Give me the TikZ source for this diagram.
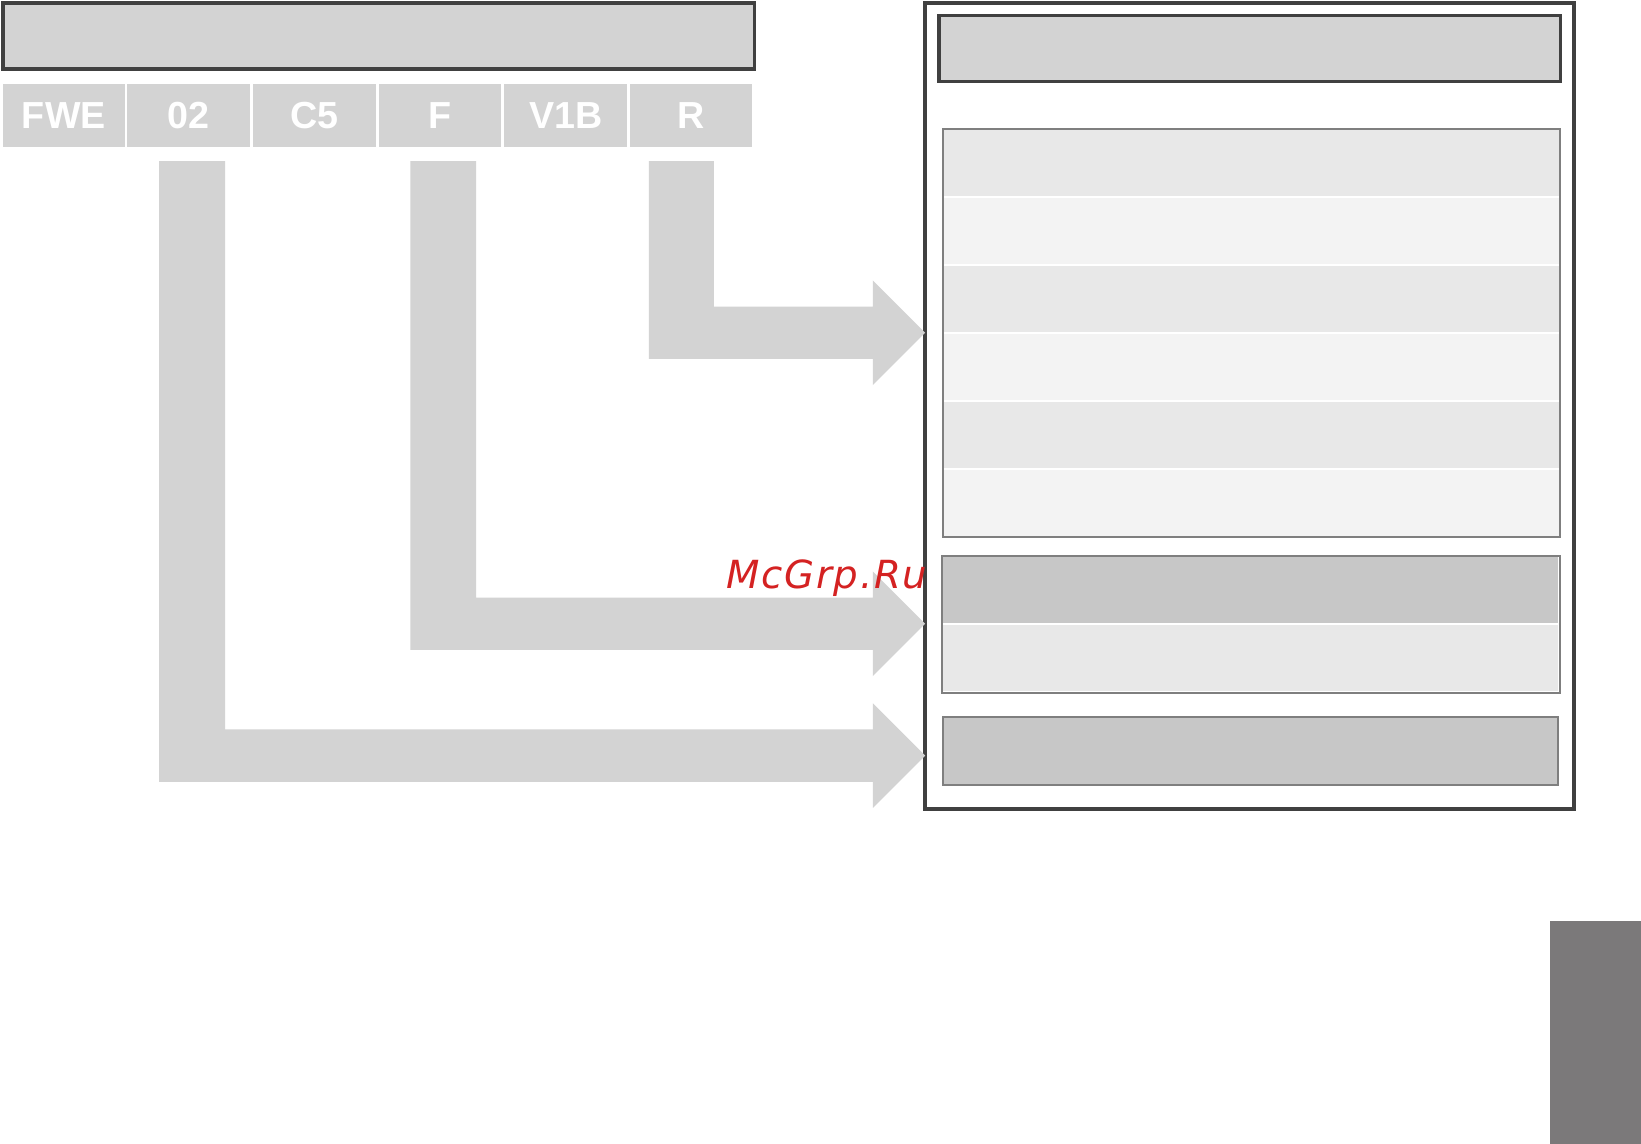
\documentclass[tikz,border=0pt]{standalone}
\usepackage{fontspec}
\setmainfont{Liberation Sans}
\newfontfamily\wmfont[LetterSpace=4.5]{DejaVu Sans}
\definecolor{boxgray}{HTML}{D3D3D3}
\definecolor{darkline}{HTML}{404040}
\definecolor{midline}{HTML}{7F7F7F}
\definecolor{rowA}{HTML}{E8E8E8}
\definecolor{rowB}{HTML}{F3F3F3}
\definecolor{rowC}{HTML}{C7C7C7}
\definecolor{tabgray}{HTML}{7B797A}
\definecolor{wmred}{HTML}{D42222}
\begin{document}
\begin{tikzpicture}[x=0.5pt,y=-0.5pt,
  every node/.style={inner sep=0pt,outer sep=0pt,anchor=north west},
  headbox/.style={draw=darkline,fill=boxgray,line width=1.7pt},
  codebox/.style={fill=boxgray,minimum width=58.5pt,minimum height=30pt,
    text=white,font=\bfseries\fontsize{18}{18}\selectfont,anchor=center},
  rowbox/.style={draw=white,line width=1pt,minimum width=295pt,minimum height=32.5pt},
  tablebox/.style={draw=midline,line width=1pt},
  flow/.style={fill=boxgray}]
\useasboundingbox (0,0) rectangle (1568,1093);
% top-left header
\node[headbox,minimum width=359pt,minimum height=31.5pt] (hdr) at (3,3) {};
% code boxes
\node[codebox] (c1) at (61,110) {FWE};
\node[codebox] (c2) at (180,110) {02};
\node[codebox] (c3) at (300.5,110) {C5};
\node[codebox] (c4) at (420.5,110) {F};
\node[codebox] (c5) at (540.5,110) {V1B};
\node[codebox] (c6) at (660.5,110) {R};
% right panel
\node[draw=darkline,line width=1.7pt,minimum width=310pt,minimum height=385pt] (panel) at (884,3) {};
\node[headbox,minimum width=297pt,minimum height=31.5pt] (phdr) at (897,15) {};
% table 1
\node[rowbox,fill=rowA] (r1) at (901,123) {};
\node[rowbox,fill=rowB] (r2) at (901,188) {};
\node[rowbox,fill=rowA] (r3) at (901,253) {};
\node[rowbox,fill=rowB] (r4) at (901,318) {};
\node[rowbox,fill=rowA] (r5) at (901,383) {};
\node[rowbox,fill=rowB] (r6) at (901,448) {};
\node[tablebox,minimum width=295pt,minimum height=195pt] (t1) at (901,123) {};
% table 2
\node[rowbox,fill=rowC] (s1) at (900,531) {};
\node[rowbox,fill=rowA] (s2) at (900,596) {};
\node[tablebox,minimum width=295.5pt,minimum height=65.5pt] (t2) at (900,531) {};
% box 3
\node[tablebox,fill=rowC,minimum width=294pt,minimum height=32.5pt] (t3) at (901,685) {};
% arrows
\path[flow] (620,154) -- (682,154) -- (682,293) -- (834,293) -- (834,268)
  -- (panel.west |- 0,318) -- (834,368) -- (834,343) -- (620,343) -- cycle;
\path[flow] (392,154) -- (455,154) -- (455,571) -- (834,571) -- (834,546)
  -- (panel.west |- 0,596) -- (834,646) -- (834,621) -- (392,621) -- cycle;
\path[flow] (152,154) -- (215,154) -- (215,697) -- (834,697) -- (834,672)
  -- (panel.west |- 0,722) -- (834,772) -- (834,747) -- (152,747) -- cycle;
% corner tab
\node[fill=tabgray,minimum width=43.5pt,minimum height=106.5pt] (tab) at (1481,880) {};
% watermark
\node[text=wmred,font=\wmfont\itshape\fontsize{18.5}{18.5}\selectfont,anchor=base west] (wm) at (694,562) {McGrp.Ru};
\end{tikzpicture}
\end{document}
